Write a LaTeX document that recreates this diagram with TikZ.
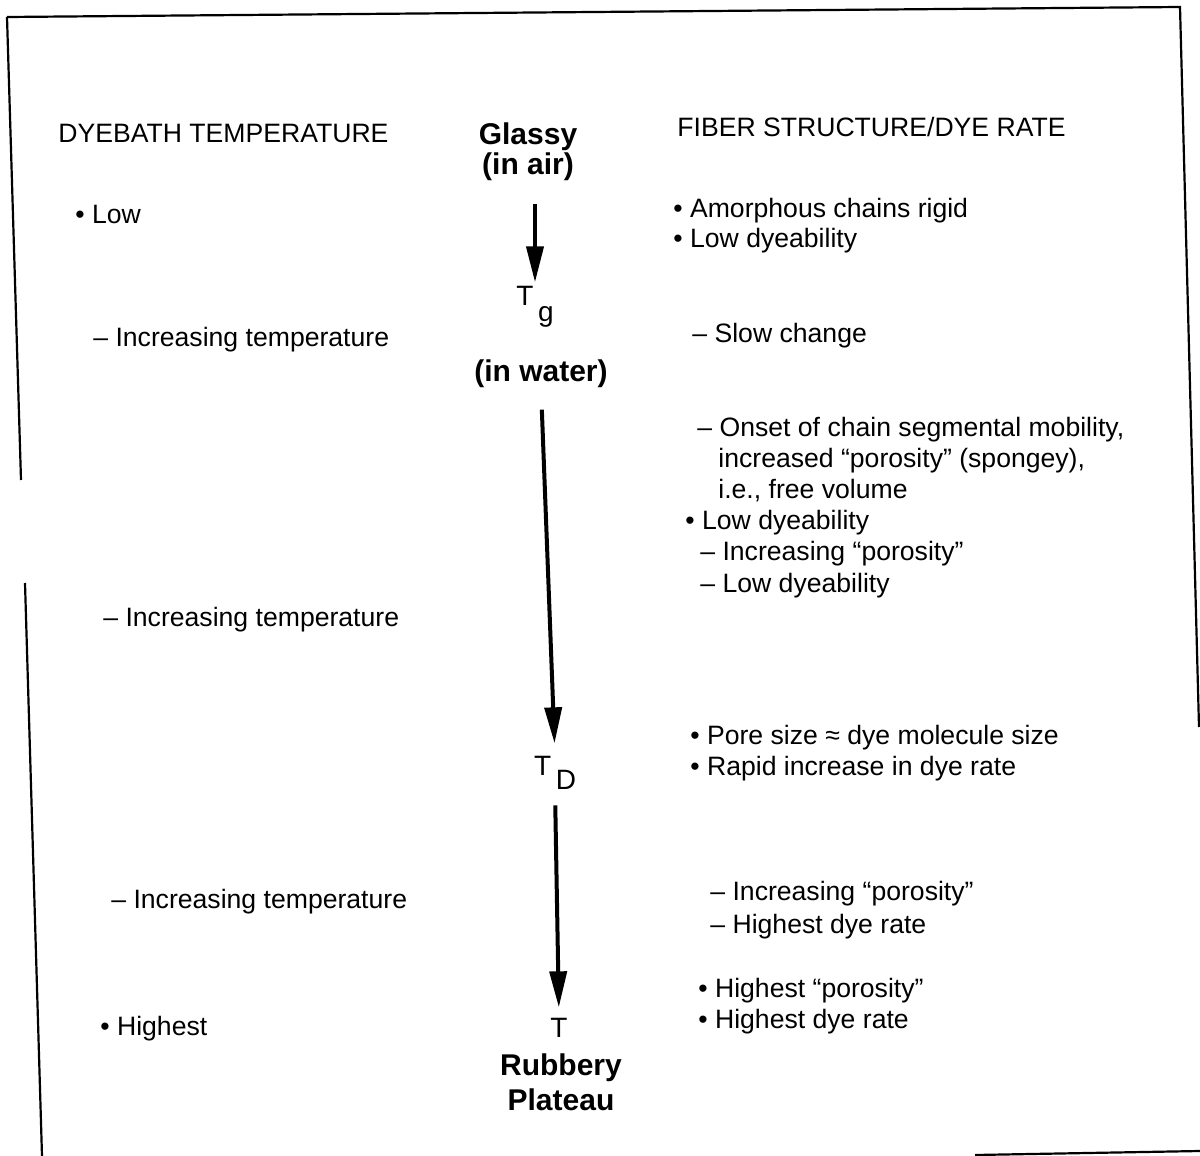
\documentclass[tikz,border=0pt]{standalone}
\usepackage{fontspec}
\setmainfont{Liberation Sans}
\usepackage{tikz}
\usetikzlibrary{positioning,
				arrows.meta}

\tikzset{
	lbl/.style={anchor=base west, inner sep=0pt, font=\fontsize{13.3}{16}\selectfont},
	stage/.style={anchor=base, inner sep=0pt, font=\fontsize{15}{17}\selectfont\bfseries},
	temp/.style={anchor=base, inner sep=0pt, font=\fontsize{14}{16}\selectfont},
	flow/.style={-{Triangle[length=18pt,width=8.5pt]}, line width=2pt},
	frame/.style={line width=1.1pt}
}

\begin{document}
\begin{tikzpicture}[x=0.5pt,y=-0.5pt]
		\useasboundingbox (0,0) rectangle (1200,1156);
		% scanned page frame
		\draw[frame] (7,17) -- (1180,7) -- (1199,727);
		\draw[frame] (7,17) -- (21,480);
		\draw[frame] (25,583) -- (42,1156);
		\draw[frame] (975,1155) -- (1200,1151);

		% left column
		\node[lbl] (headL) at (58,143) {DYEBATH TEMPERATURE};
		\node[lbl] (low) at (75,223) {• Low};
		\node[lbl] (incA) at (93,346) {-- Increasing temperature};
		\node[lbl] (incB) at (103,626) {-- Increasing temperature};
		\node[lbl] (incC) at (111,908) {-- Increasing temperature};
		\node[lbl] (highest) at (100,1035) {• Highest};

		% centre column
		\node[stage] (glassy) at (528,145) {Glassy};
		\node[stage] (inair) at (528,175) {(in air)};
		\node[temp] (tg) at (535,305) {T\,\raisebox{-8pt}{g}};
		\node[stage] (inwater) at (541,381) {(in water)};
		\node[temp] (td) at (555,775) {T\,\raisebox{-7pt}{D}};
		\node[temp] (trub) at (559,1037) {T};
		\node[stage] (rubbery) at (561,1075) {Rubbery};
		\node[stage] (plateau) at (561,1110) {Plateau};

		\draw[flow, shorten <=11pt, shorten >=1.5pt] (inair.south -| tg.north) -- (tg.north);
		\draw[flow, shorten <=11pt, shorten >=6pt] (inwater.south) -- (td.north);
		\draw[flow, shorten <=8pt, shorten >=5pt] (td.south) -- (trub.north);

		% right column
		\node[lbl] (headR) at (677,137) {FIBER STRUCTURE/DYE RATE};
		\node[lbl] (amorph) at (673,217) {• Amorphous chains rigid};
		\node[lbl] (lowdyeA) at (673,248) {• Low dyeability};
		\node[lbl] (slow) at (692,342) {-- Slow change};
		\node[lbl] (onset) at (697,436) {-- Onset of chain segmental mobility,};
		\node[lbl] (porous) at (718,467) {increased ``porosity'' (spongey),};
		\node[lbl] (freevol) at (718,498) {i.e., free volume};
		\node[lbl] (lowdyeB) at (685,529) {• Low dyeability};
		\node[lbl] (incporA) at (700,560) {-- Increasing ``porosity''};
		\node[lbl] (lowdyeC) at (700,592) {-- Low dyeability};
		\node[lbl] (pore) at (690,744) {• Pore size ≈ dye molecule size};
		\node[lbl] (rapid) at (690,775) {• Rapid increase in dye rate};
		\node[lbl] (incporB) at (710,900) {-- Increasing ``porosity''};
		\node[lbl] (highrateA) at (710,933) {-- Highest dye rate};
		\node[lbl] (highpor) at (698,997) {• Highest ``porosity''};
		\node[lbl] (highrateB) at (698,1028) {• Highest dye rate};
\end{tikzpicture}
\end{document}
